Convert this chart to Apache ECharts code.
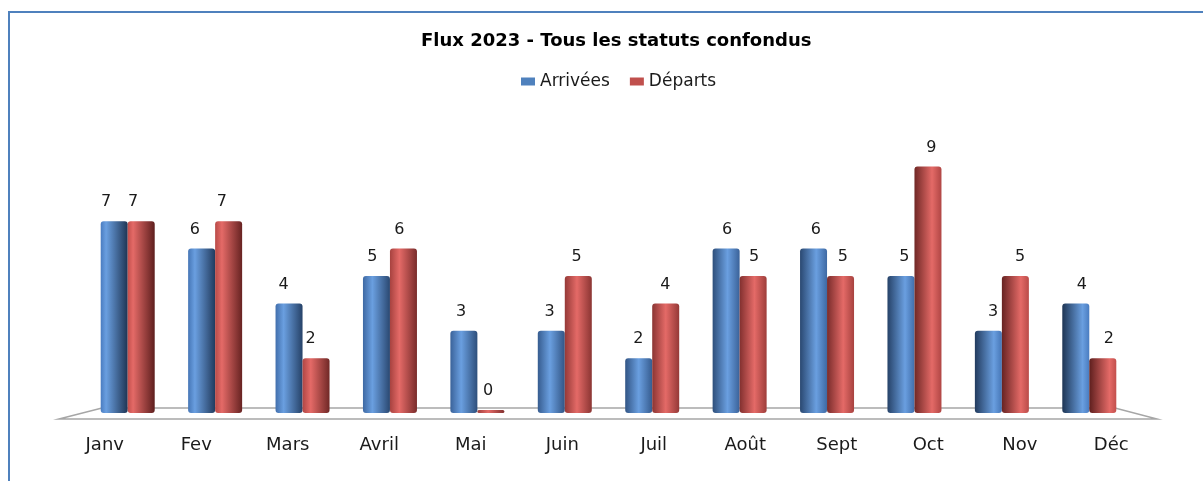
<!DOCTYPE html>
<html>
<head>
<meta charset="utf-8">
<script src="https://cdn.jsdelivr.net/npm/echarts@6/dist/echarts.min.js"></script>
<style>
  html, body { margin: 0; padding: 0; background: #fff; }
  #chart { width: 1203px; height: 481px; }
</style>
</head>
<body>
<div id="chart"></div>
<script>
// Monthly flows, 2023
const months = ['Janv', 'Fev', 'Mars', 'Avril', 'Mai', 'Juin', 'Juil', 'Août', 'Sept', 'Oct', 'Nov', 'Déc'];
const arrivees = [7, 6, 4, 5, 3, 3, 2, 6, 6, 5, 3, 4];
const departs = [7, 7, 2, 6, 0, 5, 4, 5, 5, 9, 5, 2];

// Layout: bars stand on a back plane, month labels run along the front edge of the floor
const ZERO_Y = 413;
const Y_MAX = 10;
const PX_PER_UNIT = 27.4;
const BAR_GRID = { left: 84, width: 1049 };
const LABEL_GRID = { left: 59, width: 1098 };
const FRONT_DROP = 6;
const BACK_RISE = 5;
const BACK_INSET = 18;

const FONT = '"DejaVu Sans", Verdana, sans-serif';

function hex(c) { return [1, 3, 5].map(i => parseInt(c.substr(i, 2), 16)); }
function mix(a, b, t) {
  const A = hex(a), B = hex(b);
  return 'rgb(' + A.map((v, i) => Math.round(v + (B[i] - v) * t)).join(',') + ')';
}

// Cylinder shading: highlight slides from left to right across the chart
function cylinder(pal, i, n) {
  const t = i / (n - 1);
  return {
    type: 'linear', x: 0, y: 0, x2: 1, y2: 0,
    colorStops: [
      { offset: 0, color: mix(pal.base, pal.dark, t) },
      { offset: 0.2 + 0.55 * t, color: pal.hi },
      { offset: 1, color: mix(pal.dark, pal.base, t) }
    ]
  };
}

const BLUE = { base: '#4a7cc0', hi: '#6a9fe0', dark: '#1e3554', flat: '#4F81BD' };
const RED = { base: '#c24f4c', hi: '#e46a67', dark: '#5e1f1e', flat: '#C0504D' };

function buildData(values, pal) {
  const n = values.length;
  return values.map((v, i) => ({
    value: v,
    itemStyle: { color: cylinder(pal, i, n) },
    label: { offset: [-8 + 14 * i / (n - 1), 0] }
  }));
}

const chart = echarts.init(document.getElementById('chart'), null, { renderer: 'canvas' });

const gridTop = ZERO_Y - Y_MAX * PX_PER_UNIT;
const frontY = ZERO_Y + FRONT_DROP;
const backY = ZERO_Y - BACK_RISE;

const floor = [
  [LABEL_GRID.left, frontY],
  [BAR_GRID.left + BACK_INSET, backY],
  [BAR_GRID.left + BAR_GRID.width - BACK_INSET, backY],
  [LABEL_GRID.left + LABEL_GRID.width, frontY]
];

const barSeries = (name, values, pal) => ({
  name: name,
  type: 'bar',
  xAxisIndex: 0,
  yAxisIndex: 0,
  barWidth: 27,
  barGap: '0%',
  barMinHeight: 3,
  z: 5,
  itemStyle: { color: pal.flat, borderRadius: 3 },
  label: {
    show: true,
    position: 'top',
    distance: 11,
    fontFamily: FONT,
    fontSize: 16,
    color: '#1a1a1a'
  },
  data: buildData(values, pal)
});

chart.setOption({
  animation: false,
  backgroundColor: '#ffffff',
  title: {
    text: 'Flux 2023 - Tous les statuts confondus',
    left: 416,
    top: 27,
    textStyle: { fontFamily: FONT, fontWeight: 'bold', fontSize: 18, color: '#000' }
  },
  legend: {
    top: 68,
    left: 516,
    icon: 'rect',
    itemWidth: 14,
    itemHeight: 8,
    itemGap: 20,
    itemTextGap: 3,
    textStyle: { fontFamily: FONT, fontSize: 17, color: '#1a1a1a' },
    data: ['Arrivées', 'Départs']
  },
  grid: [
    { left: BAR_GRID.left, width: BAR_GRID.width, top: gridTop, height: ZERO_Y - gridTop },
    { left: LABEL_GRID.left, width: LABEL_GRID.width, top: gridTop, height: frontY - gridTop }
  ],
  xAxis: [
    {
      gridIndex: 0, type: 'category', data: months,
      axisLine: { show: false }, axisTick: { show: false }, axisLabel: { show: false }
    },
    {
      gridIndex: 1, type: 'category', data: months,
      axisLine: { show: false }, axisTick: { show: false },
      axisLabel: { margin: 17, fontFamily: FONT, fontSize: 18, color: '#1a1a1a' }
    }
  ],
  yAxis: [
    { gridIndex: 0, type: 'value', min: 0, max: Y_MAX, show: false, splitLine: { show: false } },
    { gridIndex: 1, type: 'value', min: 0, max: Y_MAX, show: false, splitLine: { show: false } }
  ],
  graphic: [
    {
      type: 'rect',
      z: -10,
      shape: { x: 9, y: 12, width: 1400, height: 600 },
      style: { fill: 'none', stroke: '#4f81bd', lineWidth: 2 }
    },
    {
      type: 'polygon',
      z: 0,
      shape: { points: floor },
      style: { fill: '#ffffff', stroke: '#a6a6a6', lineWidth: 1.5 }
    }
  ],
  series: [
    barSeries('Arrivées', arrivees, BLUE),
    barSeries('Départs', departs, RED)
  ]
});
</script>
</body>
</html>
